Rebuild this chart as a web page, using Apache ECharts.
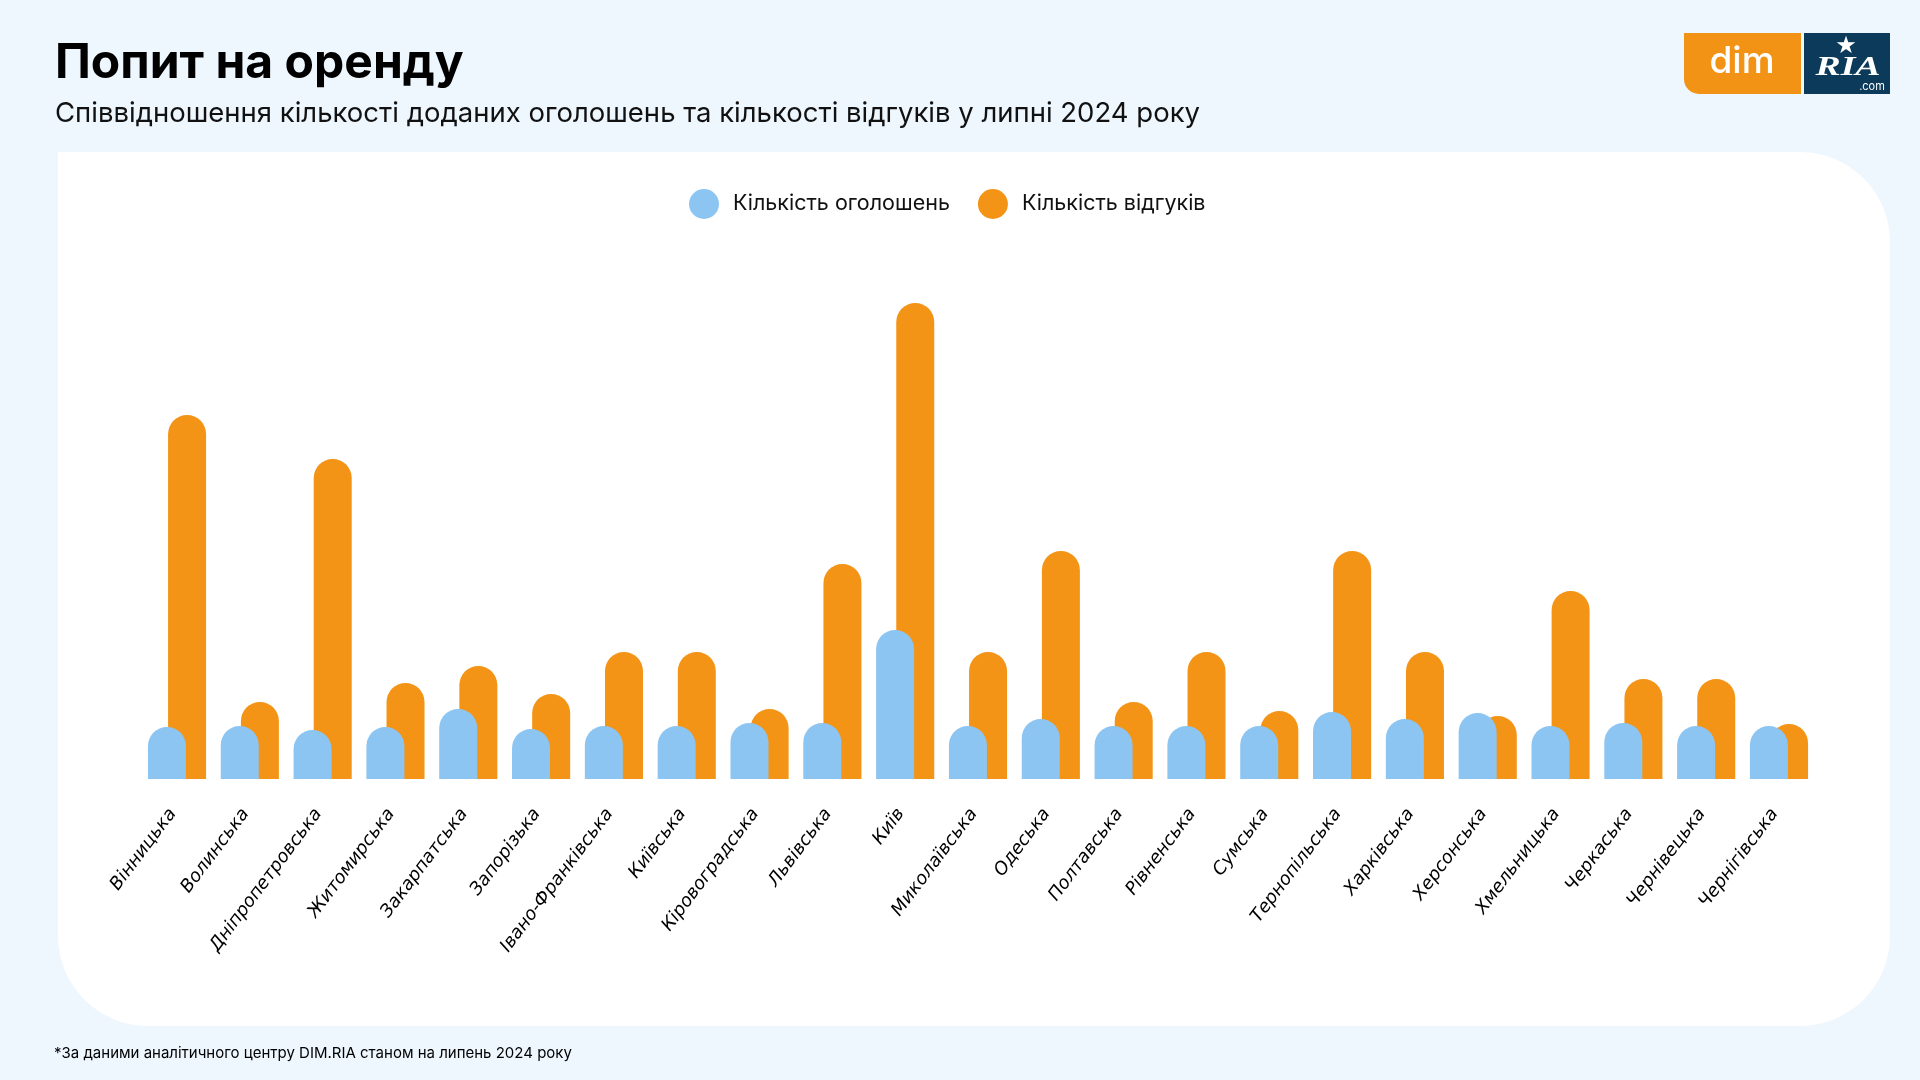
<!DOCTYPE html>
<html>
<head>
<meta charset="utf-8">
<script src="https://cdn.jsdelivr.net/npm/echarts@6/dist/echarts.min.js"></script>
<style>
html,body{margin:0;padding:0;background:#EEF6FE;}
#c{width:1920px;height:1080px;}
</style>
</head>
<body>
<div id="c"></div>
<script>
// Data (heights; no value axis shown)
const categories = ['Вінницька','Волинська','Дніпропетровська','Житомирська','Закарпатська','Запорізька','Івано-Франківська','Київська','Кіровоградська','Львівська','Київ','Миколаївська','Одеська','Полтавська','Рівненська','Сумська','Тернопільська','Харківська','Херсонська','Хмельницька','Черкаська','Чернівецька','Чернігівська'];
const listings  = [52, 53, 49, 52, 70, 50, 53, 53, 56, 56, 149, 53, 60, 53, 53, 53, 67, 60, 66, 53, 56, 53, 53];
const responses = [364, 77, 320, 96, 113, 85, 127, 127, 70, 215, 476, 127, 228, 77, 127, 68, 228, 127, 63, 188, 100, 100, 55];
const seriesNames = ['Кількість оголошень', 'Кількість відгуків'];
const titleText = 'Попит на оренду';
const subtitleText = 'Співвідношення кількості доданих оголошень та кількості відгуків у липні 2024 року';
const footnoteText = '*За даними аналітичного центру DIM.RIA станом на липень 2024 року';

const BLUE = '#8CC5F2', ORANGE = '#F39416';
const chart = echarts.init(document.getElementById('c'));
chart.setOption({
  backgroundColor: '#EEF6FE',
  animation: false,
  graphic: [
    { type: 'rect', z: -10, shape: { x: 58, y: 152, width: 1832, height: 874, r: [0, 90, 90, 90] }, style: { fill: '#FFFFFF' } },
    { type: 'text', x: 55, y: 64, style: { text: titleText, font: '700 48px Inter', fill: '#000', textVerticalAlign: 'middle' } },
    { type: 'text', x: 55, y: 114, style: { text: subtitleText, font: '400 27.5px Inter', fill: '#111', textVerticalAlign: 'middle' } },
    { type: 'text', x: 54, y: 1053, style: { text: footnoteText, font: '400 15px Inter', fill: '#000', textVerticalAlign: 'middle' } },
    // logo
    { type: 'rect', shape: { x: 1684, y: 33, width: 117, height: 61, r: [0, 0, 0, 15] }, style: { fill: '#F39316' } },
    { type: 'text', x: 1742, y: 62, style: { text: 'dim', font: '500 37px Inter', fill: '#fff', textAlign: 'center', textVerticalAlign: 'middle' } },
    { type: 'rect', shape: { x: 1804, y: 33, width: 86, height: 61 }, style: { fill: '#0B3A5B' } },
    { type: 'text', x: 1848, y: 68, scaleX: 1.35, style: { text: 'RIA', font: 'italic bold 28px "Liberation Serif"', fill: '#fff', textAlign: 'center', textVerticalAlign: 'middle' } },
    { type: 'text', x: 1846, y: 47, style: { text: '★', font: '24px "DejaVu Sans"', fill: '#fff', textAlign: 'center', textVerticalAlign: 'middle' } },
    { type: 'text', x: 1872, y: 87, style: { text: '.com', font: '11px Inter', fill: '#fff', textAlign: 'center', textVerticalAlign: 'middle' } }
  ],
  legend: {
    left: 689, top: 189, padding: 0,
    icon: 'circle', itemWidth: 30, itemHeight: 30, itemGap: 28,
    textStyle: { fontFamily: 'Inter', fontSize: 21.5, color: '#111', padding: [0, 0, 0, 9] },
    data: seriesNames
  },
  grid: { left: 140.6, right: 104.6, top: 279, bottom: 301, containLabel: false },
  xAxis: {
    type: 'category', data: categories,
    axisLine: { show: false }, axisTick: { show: false },
    axisLabel: { interval: 0, rotate: 53, margin: 26, padding: [0, 7, 6, 0], fontFamily: 'DejaVu Sans', fontStyle: 'italic', fontSize: 18, color: '#000' }
  },
  yAxis: { type: 'value', min: 0, max: 500, show: false, splitLine: { show: false } },
  series: [
    { name: seriesNames[0], type: 'bar', data: listings, barWidth: 38, barGap: '-47%', z: 3,
      itemStyle: { color: BLUE, borderRadius: [19, 19, 0, 0] } },
    { name: seriesNames[1], type: 'bar', data: responses, barWidth: 38, z: 2,
      itemStyle: { color: ORANGE, borderRadius: [19, 19, 0, 0] } }
  ]
});
</script>
</body>
</html>
